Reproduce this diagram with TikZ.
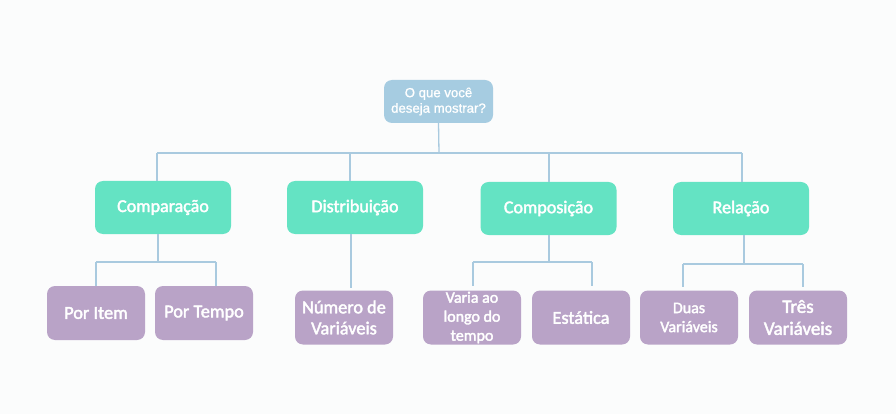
\documentclass[tikz,border=0pt]{standalone}
\usepackage{fontspec}
\setmainfont{Carlito}[FakeBold=2.2]
\newfontfamily\rootfont{Liberation Sans}[FakeBold=1]
\definecolor{bgc}{HTML}{FBFCFC}
\definecolor{rootc}{HTML}{A6CCE1}
\definecolor{greenc}{HTML}{64E3C3}
\definecolor{purplec}{HTML}{B9A3C7}
\definecolor{linec}{HTML}{A9CADF}
\begin{document}
\begin{tikzpicture}[x=1pt,y=-1pt,
  box/.style={rounded corners=8pt, inner sep=0pt, text=white, align=center},
  rootbox/.style={box, fill=rootc, minimum width=109pt, minimum height=43pt, font=\rootfont\fontsize{13.2}{15.5}\selectfont},
  catbox/.style={box, fill=greenc, minimum width=136pt, minimum height=53pt, font=\fontsize{18}{21}\selectfont},
  leafbox/.style={box, fill=purplec, minimum width=98pt, minimum height=54pt, font=\fontsize{18.3}{21}\selectfont},
  smallleaf/.style={leafbox, font=\fontsize{16}{19}\selectfont},
  conn/.style={draw=linec, line width=1.3pt}
]
\fill[bgc] (0,0) rectangle (896,414);
\useasboundingbox (0,0) rectangle (896,414);

\node[rootbox] (root) at (438.5,101.5) {O que você\\deseja mostrar?};

\node[catbox] (comp) at (163,207.5) {Comparação};
\node[catbox] (dist) at (355,207.5) {Distribuição};
\node[catbox] (compos) at (548.5,208.5) {Composição};
\node[catbox] (rel) at (741,208.5) {Relação};

\node[leafbox] (item) at (96,313) {Por Item};
\node[leafbox] (tempo) at (204,313) {Por Tempo};
\node[leafbox] (num) at (344,317.5) {Número de\\Variáveis};
\node[smallleaf] (varia) at (472,317.5) {Varia ao\\longo do\\tempo};
\node[leafbox] (estat) at (581,317.5) {Estática};
\node[smallleaf] (duas) at (689,317.5) {Duas\\Variáveis};
\node[leafbox, font=\fontsize{19}{22}\selectfont] (tres) at (798,317.5) {Três\\Variáveis};

% top bar
\coordinate (rootbar) at (439,153);
\coordinate (barL) at (157,153);
\coordinate (barD) at (350,153);
\coordinate (barC) at (549,153);
\coordinate (barR) at (742,153);
\draw[conn] (root.south) -- (rootbar);
\draw[conn] (barL) -- (barR);
\draw[conn] (barL) -- (barL |- comp.north);
\draw[conn] (barD) -- (barD |- dist.north);
\draw[conn] (barC) -- (barC |- compos.north);
\draw[conn] (barR) -- (barR |- rel.north);

% Comparação group
\coordinate (c1) at (158,262);
\coordinate (c1L) at (96,262);
\coordinate (c1R) at (216,262);
\draw[conn] (c1 |- comp.south) -- (c1);
\draw[conn] (c1L) -- (c1R);
\draw[conn] (c1L) -- (c1L |- item.north);
\draw[conn] (c1R) -- (c1R |- tempo.north);

% Distribuição
\coordinate (d1) at (351,288);
\draw[conn] (d1 |- dist.south) -- (d1);

% Composição group
\coordinate (c3) at (549,262);
\coordinate (c3L) at (473,262);
\coordinate (c3R) at (592,262);
\coordinate (c3Le) at (473,286);
\coordinate (c3Re) at (592,286);
\draw[conn] (c3 |- compos.south) -- (c3);
\draw[conn] (c3L) -- (c3R);
\draw[conn] (c3L) -- (c3Le);
\draw[conn] (c3R) -- (c3Re);

% Relação group
\coordinate (c4) at (744,264);
\coordinate (c4L) at (683,264);
\coordinate (c4R) at (803,264);
\coordinate (c4Le) at (683,287);
\coordinate (c4Re) at (803,287);
\draw[conn] (c4 |- rel.south) -- (c4);
\draw[conn] (c4L) -- (c4R);
\draw[conn] (c4L) -- (c4Le);
\draw[conn] (c4R) -- (c4Re);
\end{tikzpicture}
\end{document}
